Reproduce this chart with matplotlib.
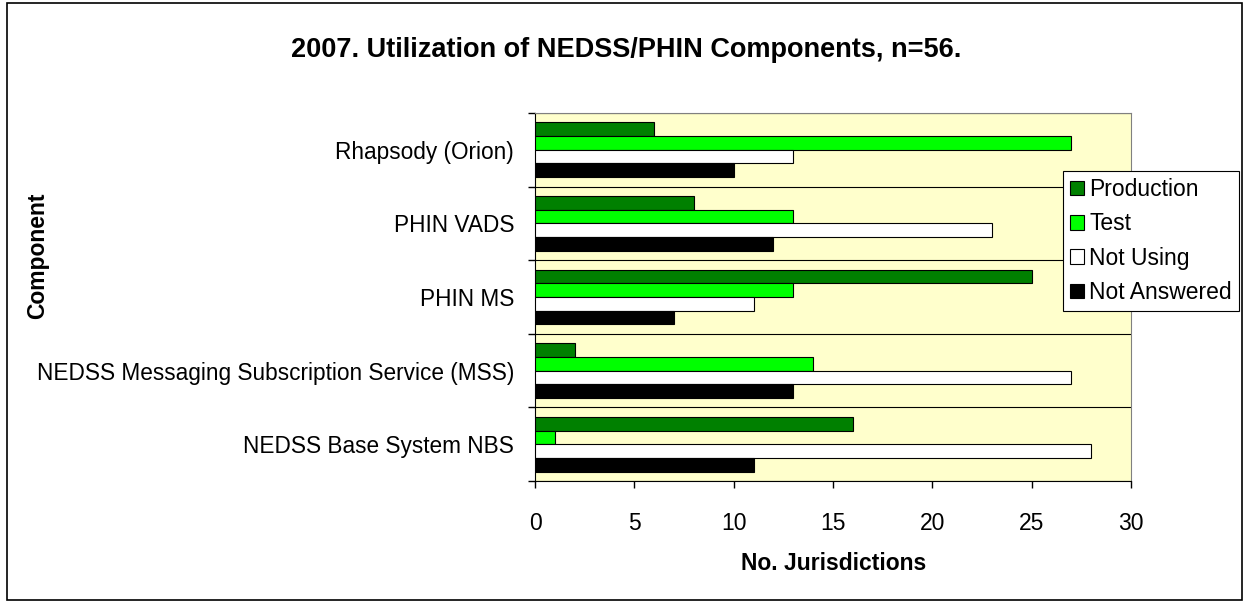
import matplotlib
matplotlib.use("Agg")
import matplotlib.pyplot as plt
import numpy as np
from matplotlib.patches import Rectangle

plt.rcParams['font.family'] = ['Liberation Sans', 'DejaVu Sans']

categories = ["Rhapsody (Orion)", "PHIN VADS", "PHIN MS",
              "NEDSS Messaging Subscription Service (MSS)", "NEDSS Base System NBS"]
series_names = ["Production", "Test", "Not Using", "Not Answered"]
production = [6, 8, 25, 2, 16]
test = [27, 13, 13, 14, 1]
not_using = [13, 23, 11, 27, 28]
not_answered = [10, 12, 7, 13, 11]
colors = ["#008000", "#00FF00", "#FFFFFF", "#000000"]
xticks = [0, 5, 10, 15, 20, 25, 30]

W, H = 1250, 605
fig = plt.figure(figsize=(W/100, H/100), dpi=100)
fig.patches.append(Rectangle((7/W, 1-600/H), (1242-7)/W, (600-3)/H, transform=fig.transFigure,
                             fill=False, edgecolor="#000000", linewidth=1.2))

left, right, top, bottom = 535, 1131, 113, 481
ax = fig.add_axes([left/W, 1-bottom/H, (right-left)/W, (bottom-top)/H])
ax.set_facecolor("#FFFFCC")

n = len(categories)
data = [production, test, not_using, not_answered]
bh = 0.186
pos = np.arange(n)[::-1]  # first category at top
for i, (vals, c, name) in enumerate(zip(data, colors, series_names)):
    y = pos + (1.5 - i) * bh
    ax.barh(y, vals, height=bh, color=c, edgecolor="#000000", linewidth=0.8, label=name, zorder=3)

ax.set_xlim(0, 30)
ax.set_ylim(-0.5, n - 0.5)
ax.set_xticks(xticks)
ax.set_xticklabels([str(t) for t in xticks], fontsize=16.5)
ax.set_yticks(pos)
ax.set_yticklabels(categories, fontsize=16.3)
ax.tick_params(axis='y', length=0, pad=15)
ax.set_yticks(np.arange(-0.5, n, 1.0), minor=True)
ax.tick_params(axis='y', which='minor', length=5, width=1, direction='out')
ax.tick_params(axis='x', length=5, width=1, direction='out', pad=17)
ax.grid(axis='y', which='minor', color="#000000", linewidth=0.8, zorder=1)
ax.grid(axis='y', which='major', visible=False)
for s in ['top', 'right']:
    ax.spines[s].set_color("#808080")
for s in ['left', 'bottom']:
    ax.spines[s].set_color("#000000")

fig.text(834/W, 1-564/H, "No. Jurisdictions", fontsize=16.5, fontweight='bold',
         ha='center', va='center')
fig.text(38/W, 1-256/H, "Component", rotation=90, fontsize=16.5, fontweight='bold',
         ha='center', va='center')
fig.text(626/W, 1-50/H, "2007. Utilization of NEDSS/PHIN Components, n=56.",
         fontsize=19.5, fontweight='bold', ha='center', va='center')

leg = fig.legend(loc='upper left', bbox_to_anchor=(1063/W, 1-171/H), fontsize=16.5,
                 frameon=True, fancybox=False, edgecolor="#000000", framealpha=1,
                 handlelength=0.6, handleheight=0.6, handletextpad=0.25,
                 borderpad=0.3, labelspacing=0.5, borderaxespad=0)
leg.get_frame().set_linewidth(0.8)

fig.savefig("out.png", dpi=100)
